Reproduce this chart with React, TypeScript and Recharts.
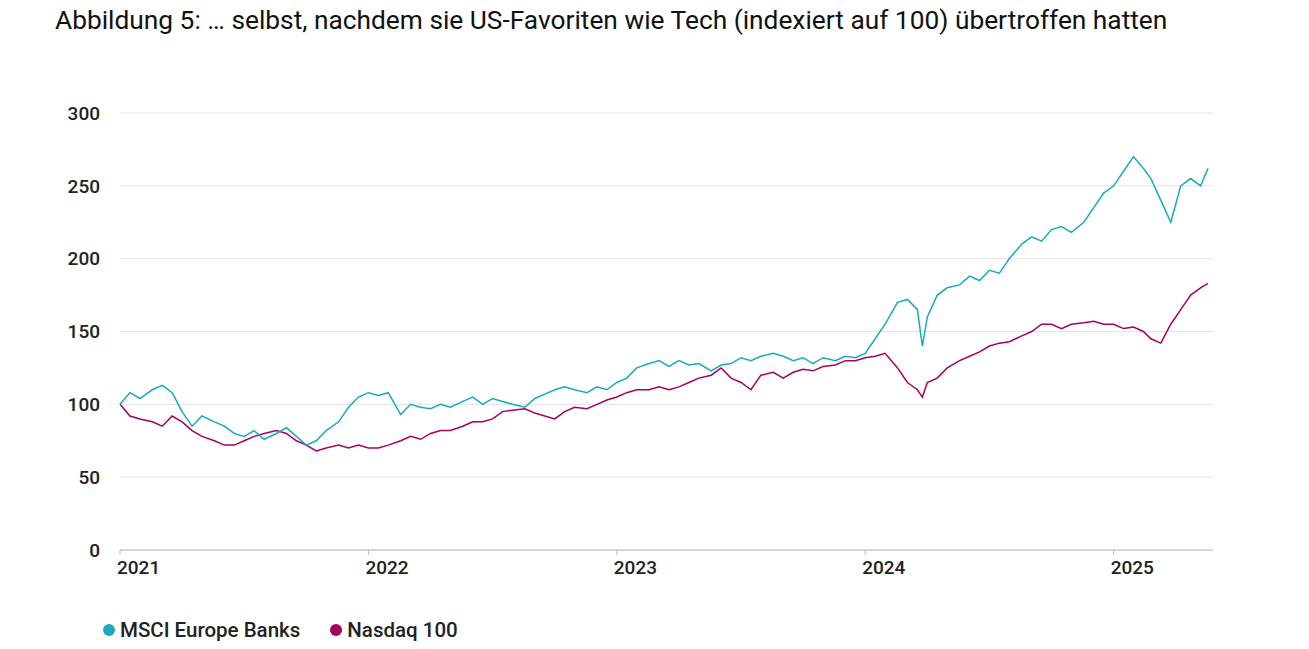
import React from "react";
import { LineChart, Line, XAxis, YAxis, CartesianGrid } from "recharts";

const times = [2021.00,2021.04,2021.08,2021.13,2021.17,2021.21,2021.25,2021.29,2021.33,2021.38,2021.42,2021.46,2021.50,2021.54,2021.58,2021.63,2021.67,2021.71,2021.75,2021.79,2021.83,2021.88,2021.92,2021.96,
2022.00,2022.04,2022.08,2022.13,2022.17,2022.21,2022.25,2022.29,2022.33,2022.38,2022.42,2022.46,2022.50,2022.54,2022.58,2022.63,2022.67,2022.71,2022.75,2022.79,2022.83,2022.88,2022.92,2022.96,
2023.00,2023.04,2023.08,2023.13,2023.17,2023.21,2023.25,2023.29,2023.33,2023.38,2023.42,2023.46,2023.50,2023.54,2023.58,2023.63,2023.67,2023.71,2023.75,2023.79,2023.83,2023.88,2023.92,2023.96,
2024.00,2024.04,2024.08,2024.13,2024.17,2024.21,2024.23,2024.25,2024.29,2024.33,2024.38,2024.42,2024.46,2024.50,2024.54,2024.58,2024.63,2024.67,2024.71,2024.75,2024.79,2024.83,2024.88,2024.92,2024.96,
2025.00,2025.04,2025.08,2025.12,2025.15,2025.19,2025.23,2025.27,2025.31,2025.35,2025.38];

const msciBanks = [100,108,104,110,113,108,95,85,92,88,85,80,78,82,76,80,84,78,72,75,82,88,98,105,
108,106,108,93,100,98,97,100,98,102,105,100,104,102,100,98,104,107,110,112,110,108,112,110,
115,118,125,128,130,126,130,127,128,123,127,128,132,130,133,135,133,130,132,128,132,130,133,132,
135,145,155,170,172,165,140,160,175,180,182,188,185,192,190,200,210,215,212,220,222,218,225,235,245,
250,260,270,262,255,240,225,250,255,250,262];

const nasdaq100 = [100,92,90,88,85,92,88,82,78,75,72,72,75,78,80,82,80,75,72,68,70,72,70,72,
70,70,72,75,78,76,80,82,82,85,88,88,90,95,96,97,94,92,90,95,98,97,100,103,
105,108,110,110,112,110,112,115,118,120,125,118,115,110,120,122,118,122,124,123,126,127,130,130,
132,133,135,125,115,110,105,115,118,125,130,133,136,140,142,143,147,150,155,155,152,155,156,157,155,
155,152,153,150,145,142,155,165,175,180,183];

const yTicks = [0, 50, 100, 150, 200, 250, 300];
const xTicks = [2021, 2022, 2023, 2024, 2025];

const data = times.map((t, i) => ({ t, msci: msciBanks[i], ndx: nasdaq100[i] }));

const TEAL = "#1aa9c0";
const MAG = "#a8005e";
const FONT = "'Roboto', sans-serif";

const XTick = (p: any) => (
  <text x={p.x - 3} y={p.y + 17} textAnchor="start" fontFamily={FONT} fontSize={19} fontWeight={500} fill="#222">
    {p.payload.value}
  </text>
);

export default function App() {
  return (
    <div style={{ position: "absolute", left: 0, top: 0, width: 1309, height: 649, background: "#fff", fontFamily: FONT }}>
      <div style={{ position: "absolute", left: 55, top: 5, fontSize: 26.3, color: "#111", whiteSpace: "nowrap" }}>
        Abbildung 5: … selbst, nachdem sie US-Favoriten wie Tech (indexiert auf 100) übertroffen hatten
      </div>
      <LineChart width={1309} height={649} data={data} margin={{ top: 113, right: 96, bottom: 59, left: 60 }}>
        <CartesianGrid horizontal vertical={false} stroke="#e3e3e3" />
        <XAxis dataKey="t" type="number" domain={[2021, 2025.4]} ticks={xTicks} tick={<XTick />}
          axisLine={{ stroke: "#bbb" }} tickLine={{ stroke: "#bbb" }} tickSize={5} height={40} />
        <YAxis domain={[0, 300]} ticks={yTicks} width={60} axisLine={false} tickLine={false} tickMargin={14}
          tick={{ fontFamily: FONT, fontSize: 19, fontWeight: 500, fill: "#222" }} />
        <Line dataKey="ndx" stroke={MAG} strokeWidth={1.5} dot={false} isAnimationActive={false} />
        <Line dataKey="msci" stroke={TEAL} strokeWidth={1.5} dot={false} isAnimationActive={false} />
      </LineChart>
      <div style={{ position: "absolute", left: 103, top: 618, fontSize: 20.5, fontWeight: 500, display: "flex", alignItems: "center", color: "#222", whiteSpace: "nowrap" }}>
        <span style={{ width: 12, height: 12, borderRadius: 6, background: TEAL, display: "inline-block", marginRight: 5 }} />
        MSCI Europe Banks
        <span style={{ width: 12, height: 12, borderRadius: 6, background: MAG, display: "inline-block", marginLeft: 30, marginRight: 5 }} />
        Nasdaq 100
      </div>
    </div>
  );
}
